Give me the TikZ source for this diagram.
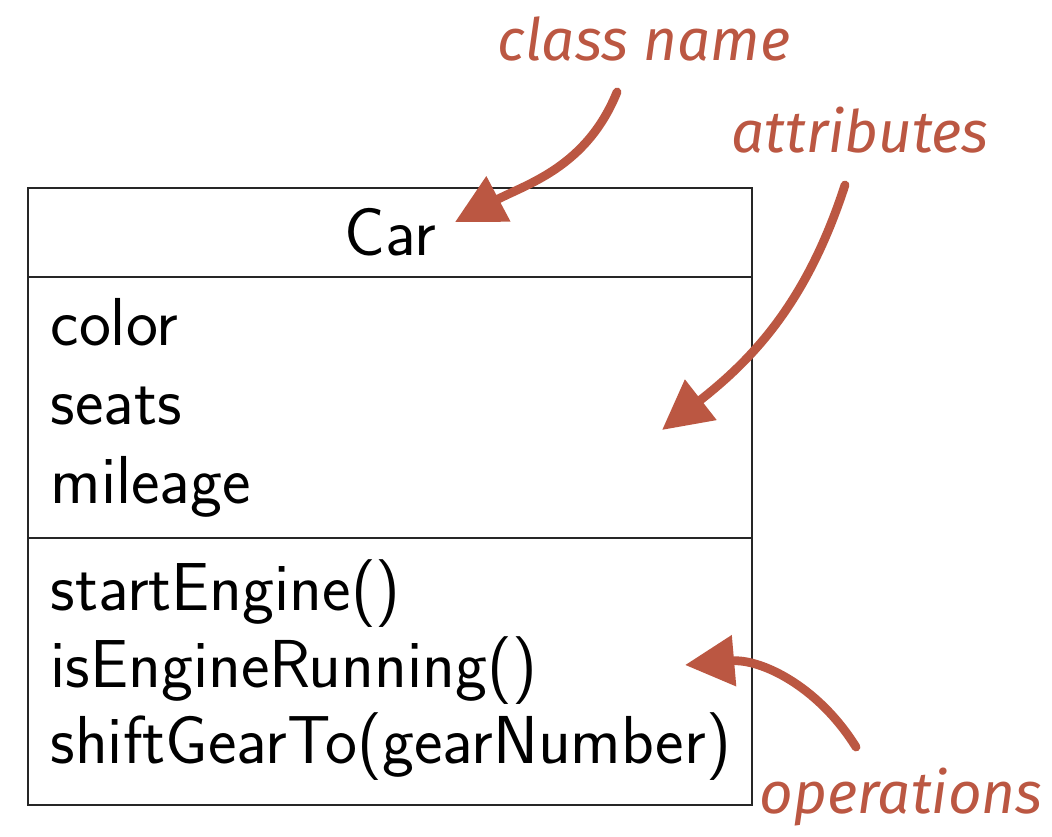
\documentclass[tikz,border=0pt]{standalone}
\usepackage{fontspec}
\usepackage{xcolor}
\usepackage{tikz}
\usetikzlibrary{arrows.meta}

\newfontfamily\notefont{Fira Sans}
\definecolor{notered}{RGB}{187,87,66}

\tikzset{
  member/.style={anchor=base west, inner sep=0pt, font=\sffamily\fontsize{19.3}{22}\selectfont},
  note/.style={anchor=base, inner sep=0pt, text=notered, font=\notefont\itshape\fontsize{16.6}{20}\selectfont},
  pointer/.style={draw=notered, line width=2.5pt, line cap=round, -{Triangle[length=14pt,width=14pt]}}
}

\begin{document}
\begin{tikzpicture}[x=0.01cm, y=-0.01cm]
\useasboundingbox (0,0) rectangle (1052,836);
% class box
\draw[line width=0.75pt, black!85] (28,188) rectangle (752,805);
\draw[line width=0.75pt, black!85] (28,277) -- (752,277);
\draw[line width=0.75pt, black!85] (28,538) -- (752,538);
\node[member, anchor=base] (cname) at (390,255) {Car};
\node[member] (color) at (50,345) {color};
\node[member] (seats) at (50,424) {seats};
\node[member] (mileage) at (50,503) {mileage};
\node[member] (start) at (50,610) {startEngine()};
\node[member] (running) at (50,687) {isEngineRunning()};
\node[member] (shift) at (50,763) {shiftGearTo(gearNumber)};
% notes
\node[note] (classnote) at (644,60) {class name};
\node[note] (attrnote) at (860,152) {attributes};
\node[note] (opnote) at (901,813) {operations};
\coordinate (classtip) at (455,222);
\coordinate (attrtip) at (662,430);
\coordinate (optip) at (685,665);
\draw[pointer] (classnote.base) ++(-27,32) to[out=-112,in=28] (classtip);
\draw[pointer] (attrnote.base) ++(-15,33) to[out=-108,in=38] (attrtip);
\draw[pointer] (opnote.base) ++(-45,-66) to[out=122,in=5] (optip);
\end{tikzpicture}
\end{document}
